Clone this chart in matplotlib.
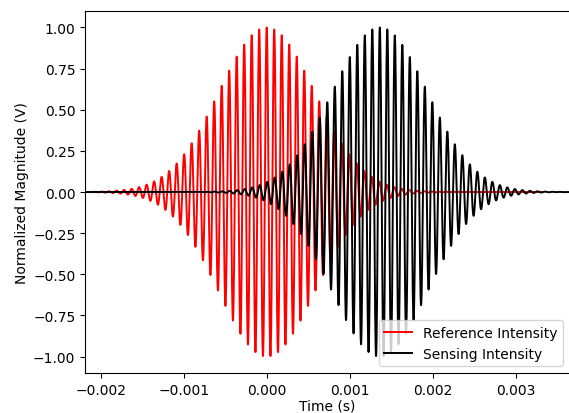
import numpy as np
import matplotlib
matplotlib.use("Agg")
import matplotlib.pyplot as plt

# Signal parameters
carrier_freq_hz = 11050.0          # ~7.5 px per cycle
ref_center_s = 0.0                  # reference pulse centre
sense_center_s = 0.001363           # sensing pulse centre
ref_sigma_s = 0.000580              # gaussian envelope width
sense_sigma_s = 0.000575
ref_span_s = [-0.00215, 0.00333]    # extent of the reference trace
sense_span_s = [-0.0022, 0.0037]    # extent of the sensing trace

labels = ["Reference Intensity", "Sensing Intensity"]
xticks = [-0.002, -0.001, 0.0, 0.001, 0.002, 0.003]
yticks = [-1.0, -0.75, -0.5, -0.25, 0.0, 0.25, 0.5, 0.75, 1.0]


def pulse(span, center, sigma, n=20000):
    t = np.linspace(span[0], span[1], n)
    y = np.exp(-((t - center) ** 2) / (2 * sigma ** 2)) * np.cos(2 * np.pi * carrier_freq_hz * (t - center))
    return t, y


t_ref, y_ref = pulse(ref_span_s, ref_center_s, ref_sigma_s)
t_sen, y_sen = pulse(sense_span_s, sense_center_s, sense_sigma_s)

plt.rcParams["font.family"] = ["DejaVu Sans"]
plt.rcParams["font.size"] = 10

fig = plt.figure(figsize=(5.69, 4.14), dpi=100)
ax = fig.add_axes([0.1494, 0.0966, 0.853, 0.8744])
ax.plot(t_ref, y_ref, color="red", lw=1.4, label=labels[0])
ax.plot(t_sen, y_sen, color="black", lw=1.4, label=labels[1])
ax.set_xlim(-0.00219, 0.00366)
ax.set_ylim(-1.1, 1.1)
ax.set_xticks(xticks)
ax.set_yticks(yticks)
ax.set_xlabel("Time (s)", labelpad=1)
ax.set_ylabel("Normalized Magnitude (V)", labelpad=3)
ax.legend(loc="lower right")
fig.savefig("out.png", dpi=100)
